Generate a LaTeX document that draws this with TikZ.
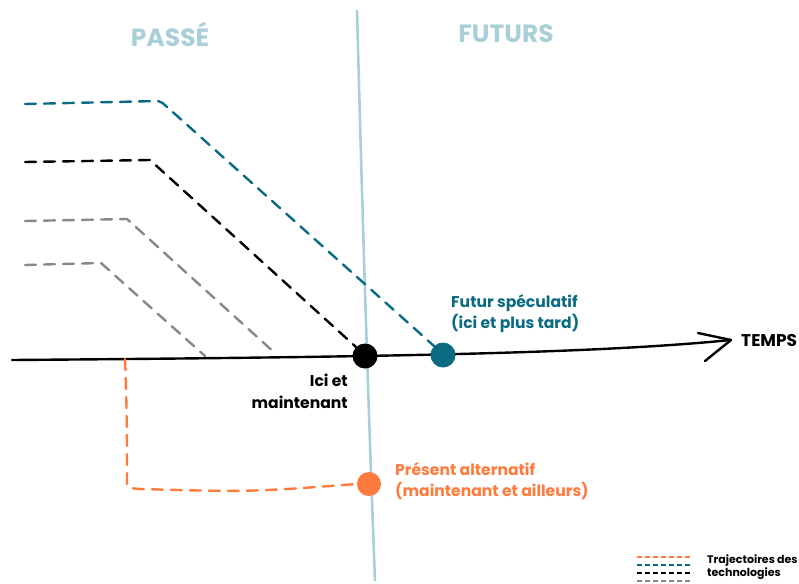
\documentclass[tikz,border=0pt]{standalone}
\usepackage{fontspec}
\setmainfont{Poppins}
\begin{document}
\begin{tikzpicture}[x=1pt,y=-1pt,
  traj/.style={line width=2.4pt, dash pattern=on 11pt off 8pt, line cap=round},
  lbl/.style={font=\fontsize{15.6}{21.5}\selectfont\bfseries, inner sep=0pt},
  dotn/.style={circle, inner sep=0pt, minimum size=25pt},
]
\definecolor{lblue}{HTML}{A9CFD9}
\definecolor{teal}{HTML}{0B6B82}
\definecolor{orng}{HTML}{FF7B3D}
\definecolor{gry}{HTML}{888888}
\useasboundingbox (0,0) rectangle (799,583);
% headings
\node[font=\fontsize{25}{28}\selectfont\bfseries, text=lblue] (passe) at (170,34) {PASSÉ};
\node[font=\fontsize{25}{28}\selectfont\bfseries, text=lblue] (futurs) at (506,34) {FUTURS};
% vertical present line
\coordinate (vt) at (357,10);
\coordinate (vb) at (375,581);
\draw[lblue, line width=2.6pt] (vt) .. controls (362,200) and (368,400) .. (vb);
% time axis
\coordinate (a0) at (12,360);
\coordinate (tip) at (731,340);
\coordinate (w1) at (698,333);
\coordinate (w2) at (705,361);
\draw[line width=2.4pt, line cap=round] (a0) .. controls (400,357) and (600,353) .. (tip);
\draw[line width=2.4pt, line cap=round, line join=round] (w1) -- (tip) -- (w2);
\node[font=\fontsize{17}{20}\selectfont\bfseries, inner sep=0pt, anchor=west] (temps) at (741,341) {TEMPS};
% dots
\node[dotn, fill=black] (ici) at (365,356) {};
\node[dotn, fill=teal] (fut) at (443,355) {};
\node[dotn, fill=orng, minimum size=24pt] (pres) at (369,484) {};
% labels
\node[lbl, align=right, anchor=north east] (icil) at (348,374) {Ici et\\maintenant};
\node[lbl, text=teal, align=left, anchor=south west] (futl) at (451,333) {Futur spéculatif\\(ici et plus tard)};
\node[lbl, text=orng, align=left, anchor=north west] (presl) at (395,462) {Présent alternatif\\(maintenant et ailleurs)};
% trajectories
\coordinate (t1) at (25,104);
\coordinate (t2) at (158,101);
\draw[traj, teal] (t1) -- (t2) to[out=-10,in=140] (166,106) -- (fut.north west);
\coordinate (b1) at (25,162);
\coordinate (b2) at (150,160);
\draw[traj] (b1) -- (b2) -- (ici.north west);
\coordinate (g1) at (25,221);
\coordinate (g2) at (127,219);
\coordinate (g3) at (276,354);
\draw[traj, gry] (g1) -- (g2) -- (g3);
\coordinate (h1) at (25,265);
\coordinate (h2) at (101,263);
\coordinate (h3) at (205,356);
\draw[traj, gry] (h1) -- (h2) -- (h3);
\coordinate (o1) at (125,359);
\draw[traj, orng] (o1) .. controls (127,420) .. (127,480) .. controls (127,488) .. (140,489) .. controls (250,492) .. (pres.west);
% legend
\foreach \c/\yy [count=\i] in {orng/557, teal/565, black/573, gry/581}{
  \coordinate (l\i a) at (637,\yy);
  \coordinate (l\i b) at (693,\yy);
  \draw[\c, line width=1.6pt, dash pattern=on 5pt off 3pt] (l\i a) -- (l\i b);
}
\node[font=\fontsize{11}{13}\selectfont\bfseries, align=left, anchor=west, inner sep=0pt] (leg) at (707,567) {Trajectoires des\\technologies};
\end{tikzpicture}
\end{document}
